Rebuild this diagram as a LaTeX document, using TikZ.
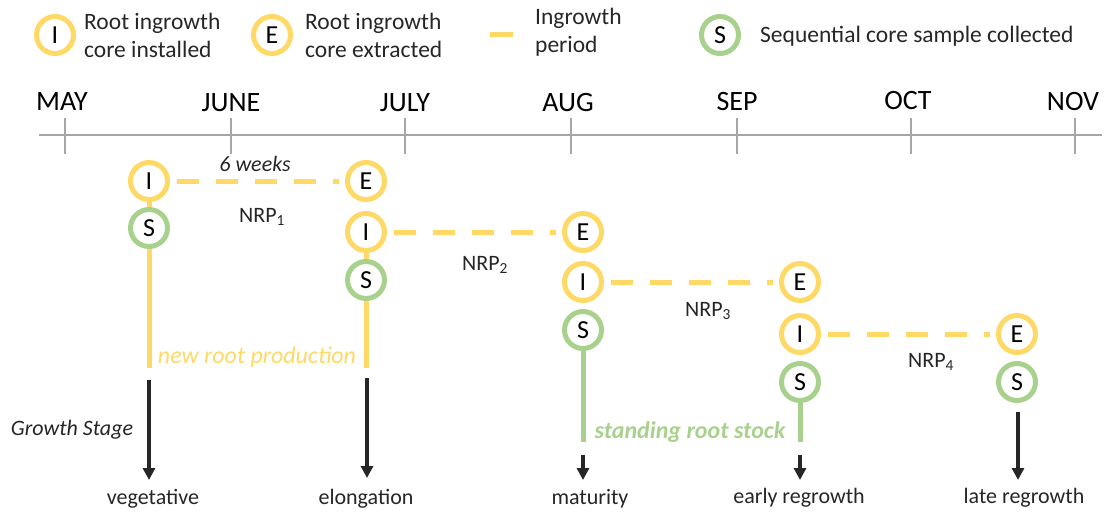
\documentclass[tikz,border=0pt]{standalone}
\usepackage{fontspec}
\setmainfont{Carlito}
\usetikzlibrary{arrows.meta}
\definecolor{yel}{HTML}{FFD966}
\definecolor{grn}{HTML}{A9D18E}
\definecolor{axisgray}{HTML}{A6A6A6}
\definecolor{ink}{HTML}{262626}
\tikzset{
  ring/.style={circle, line width=5pt, minimum size=37pt, inner sep=0pt, fill=white,
    font=\fontsize{26}{28}\selectfont, text=black},
  yring/.style={ring, draw=yel},
  gring/.style={ring, draw=grn},
  txt/.style={font=\fontsize{22}{26}\selectfont, text=ink, inner sep=0pt},
  legtxt/.style={font=\fontsize{23.5}{28}\selectfont, text=ink, inner sep=0pt, align=left, anchor=west},
  month/.style={font=\fontsize{28}{30}\selectfont, text=black, inner sep=0pt},
  period/.style={yel, line width=5pt, dash pattern=on 22pt off 17pt, shorten <=7pt, shorten >=6pt},
  ystem/.style={yel, line width=5pt},
  gstem/.style={grn, line width=5pt},
  stagearrow/.style={ink, line width=3.5pt, -{Triangle[length=12pt,width=12pt]}},
  tick/.style={axisgray, line width=1.3pt},
}
\begin{document}
\begin{tikzpicture}[x=1pt,y=-1pt]
\useasboundingbox (0,0) rectangle (1108,512);
% legend
\node[yring] (legI) at (55,35) {I};
\node[legtxt] (legItxt) at (84,35) {Root ingrowth\\core installed};
\node[yring] (legE) at (272,35) {E};
\node[legtxt] (legEtxt) at (305,35) {Root ingrowth\\core extracted};
\coordinate (legDa) at (490,34);
\coordinate (legDb) at (513,34);
\draw[ystem] (legDa) -- (legDb);
\node[legtxt] (legPtxt) at (535,32) {Ingrowth\\period};
\node[gring] (legS) at (720,35) {S};
\node[legtxt] (legStxt) at (760,36) {Sequential core sample collected};
% axis
\coordinate (axL) at (39,135);
\coordinate (axR) at (1102,135);
\draw[axisgray, line width=1.5pt] (axL) -- (axR);
\foreach \x/\lx/\ly/\m/\nm in {65/62/102/MAY/may,231/231/103/JUNE/jun,405/405/103/JULY/jul,571/568/103/AUG/aug,737/737/102/SEP/sep,911/908/101/OCT/oct,1075/1073/102/NOV/nov}{
  \coordinate (t\nm a) at (\x,118);
  \coordinate (t\nm b) at (\x,154);
  \draw[tick] (t\nm a) -- (t\nm b);
  \node[month] (m\nm) at (\lx,\ly) {\m};
}
% column 1
\node[yring] (I1) at (149,181) {I};
\node[gring] (S1) at (149,228) {S};
% column 2
\node[yring] (E1) at (366,181) {E};
\node[yring] (I2) at (366,232) {I};
\node[gring] (S2) at (366,280) {S};
% column 3
\node[yring] (E2) at (583,232) {E};
\node[yring] (I3) at (583,282) {I};
\node[gring] (S3) at (583,330) {S};
% column 4
\node[yring] (E3) at (800,282) {E};
\node[yring] (I4) at (800,334) {I};
\node[gring] (S4) at (800,382) {S};
% column 5
\node[yring] (E4) at (1017,334) {E};
\node[gring] (S5) at (1017,382) {S};
% periods
\draw[period] (I1.east) -- (E1.west);
\draw[period] (I2.east) -- (E2.west);
\draw[period] (I3.east) -- (E3.west);
\draw[period] (I4.east) -- (E4.west);
\node[txt, font=\fontsize{22}{26}\selectfont\itshape] (w6) at (255,164) {6 weeks};
\node[txt] (nrp1) at (262,217) {NRP\textsubscript{1}};
\node[txt] (nrp2) at (485,265) {NRP\textsubscript{2}};
\node[txt] (nrp3) at (708,311) {NRP\textsubscript{3}};
\node[txt] (nrp4) at (931,362) {NRP\textsubscript{4}};
% stems
\coordinate (y1end) at (149,368);
\coordinate (y2end) at (366,368);
\coordinate (g3end) at (583,442);
\coordinate (g4end) at (800,442);
\draw[ystem] (I1.south) -- (S1.north);
\draw[ystem] (S1.south) -- (y1end);
\draw[ystem] (I2.south) -- (S2.north);
\draw[ystem] (S2.south) -- (y2end);
\draw[gstem] (S3.south) -- (g3end);
\draw[gstem] (S4.south) -- (g4end);
\node[txt, text=yel, font=\fontsize{24}{26}\selectfont\itshape] (nrpLabel) at (257,357) {new root production};
\node[txt, text=grn, font=\fontsize{24}{26}\selectfont\bfseries\itshape] (srsLabel) at (690,432) {standing root stock};
% growth stages
\node[txt, font=\fontsize{22}{26}\selectfont\itshape] (gs) at (72,430) {Growth Stage};
\node[txt, anchor=base] (veg) at (153,504) {vegetative};
\node[txt, anchor=base] (elo) at (366,504) {elongation};
\node[txt, anchor=base] (mat) at (590,504) {maturity};
\node[txt, anchor=base] (ear) at (799,503) {early regrowth};
\node[txt, anchor=base] (lat) at (1024,503) {late regrowth};
\coordinate (a1) at (149,380);
\coordinate (a1t) at (149,480);
\coordinate (a2) at (367,378);
\coordinate (a2t) at (367,478);
\coordinate (a3) at (583,455);
\coordinate (a3t) at (583,480);
\coordinate (a4) at (800,455);
\coordinate (a4t) at (800,480);
\coordinate (a5) at (1018,412);
\coordinate (a5t) at (1018,480);
\draw[stagearrow] (a1) -- (a1t);
\draw[stagearrow] (a2) -- (a2t);
\draw[stagearrow] (a3) -- (a3t);
\draw[stagearrow] (a4) -- (a4t);
\draw[stagearrow] (a5) -- (a5t);
\end{tikzpicture}
\end{document}
